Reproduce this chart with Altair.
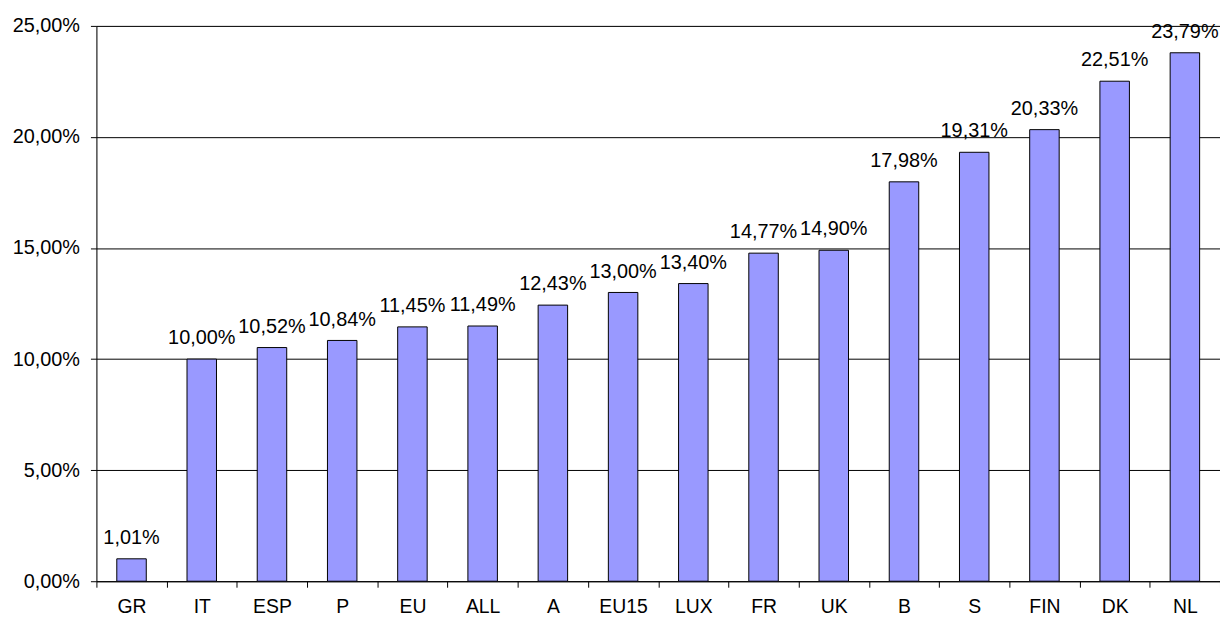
import altair as alt
import pandas as pd

categories = ["GR", "IT", "ESP", "P", "EU", "ALL", "A", "EU15", "LUX", "FR", "UK", "B", "S", "FIN", "DK", "NL"]
values = [1.01, 10.00, 10.52, 10.84, 11.45, 11.49, 12.43, 13.00, 13.40, 14.77, 14.90, 17.98, 19.31, 20.33, 22.51, 23.79]
y_ticks = [0, 5, 10, 15, 20, 25]

labels = [f"{v:.2f}".replace(".", ",") + "%" for v in values]
df = pd.DataFrame({"cat": categories, "val": values, "label": labels})

FONT = "Liberation Sans, Arial, sans-serif"

x = alt.X("cat:N", sort=categories, title=None,
          scale=alt.Scale(paddingInner=0, paddingOuter=0),
          axis=alt.Axis(labelAngle=0, tickBand="extent", tickSize=6, tickColor="black",
                        domainColor="black", labelFontSize=19.5, labelFont=FONT,
                        labelColor="black", labelPadding=10, grid=False))
y = alt.Y("val:Q", title=None,
          scale=alt.Scale(domain=[0, 25], nice=False),
          axis=alt.Axis(values=y_ticks, tickSize=6, tickColor="black", domainColor="black",
                        gridColor="black", gridOpacity=1, grid=True,
                        labelFontSize=20, labelFont=FONT, labelColor="black", labelPadding=11,
                        labelExpr="replace(format(datum.value, '.2f'), '.', ',') + '%'"))

bars = alt.Chart(df).mark_bar(width=alt.RelativeBandSize(0.42), color="#9999FF",
                              stroke="black", strokeWidth=1).encode(x=x, y=y)
text = alt.Chart(df).mark_text(dy=-15, baseline="alphabetic", fontSize=20, font=FONT,
                               color="black").encode(x=alt.X("cat:N", sort=categories),
                                                     y="val:Q", text="label:N")

chart = alt.layer(bars, text).properties(
    width=1131, height=559,
    autosize=alt.AutoSizeParams(type="none"),
    padding={"left": 89, "top": 16, "right": 0, "bottom": 36},
).configure_view(strokeWidth=0).configure(background="white")

chart.save("out.html", embed_options={"renderer": "svg", "actions": False})
